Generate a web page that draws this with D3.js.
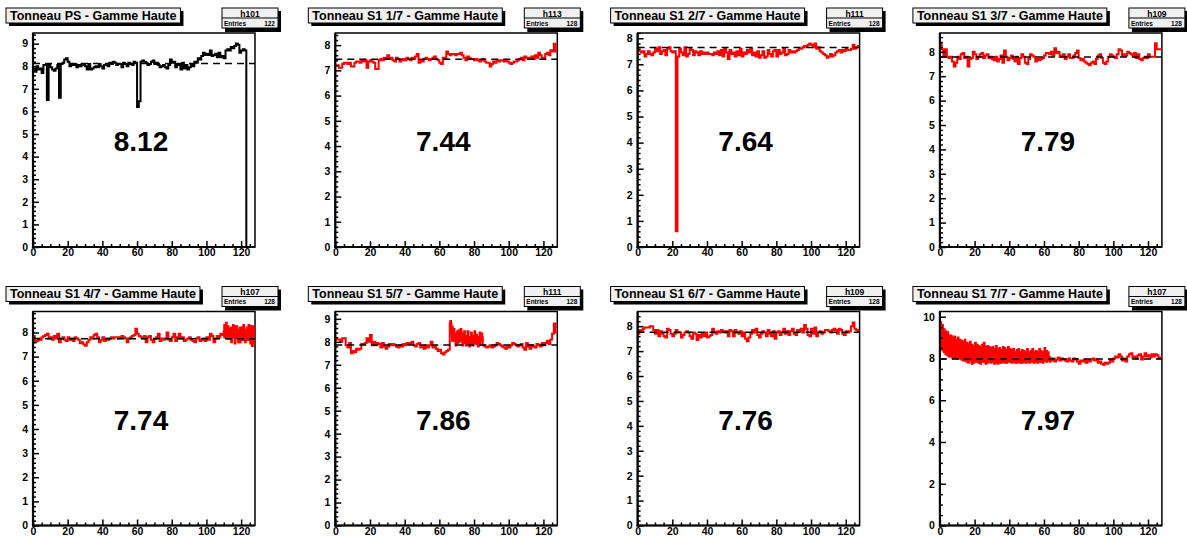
<!DOCTYPE html>
<html><head><meta charset="utf-8">
<script src="https://cdn.jsdelivr.net/npm/d3@7"></script>
<style>
body{margin:0;background:#fff;}
svg{display:block;}
text{font-family:"Liberation Sans",Arial,Helvetica,sans-serif;font-weight:bold;fill:#000;}
</style>
</head><body>
<svg id="c" width="1187" height="537"></svg>
<script>
// ---------- data ----------
const titles = ["Tonneau PS - Gamme Haute","Tonneau S1 1/7 - Gamme Haute","Tonneau S1 2/7 - Gamme Haute","Tonneau S1 3/7 - Gamme Haute",
                "Tonneau S1 4/7 - Gamme Haute","Tonneau S1 5/7 - Gamme Haute","Tonneau S1 6/7 - Gamme Haute","Tonneau S1 7/7 - Gamme Haute"];
const histNames = ["h101","h113","h111","h109","h107","h111","h109","h107"];
const entries = [122,128,128,128,128,128,128,128];
const means = [8.12,7.44,7.64,7.79,7.74,7.86,7.76,7.97];
const yMaxs = [9.47,8.48,8.2,8.77,8.87,9.32,8.59,10.25];
const colors = ["#000000","#ff0000","#ff0000","#ff0000","#ff0000","#ff0000","#ff0000","#ff0000"];
const xTickLabels = [0,20,40,60,80,100,120];

const v1 = [7.9,7.75,8.0,7.85,7.9,7.7,8.05,8.05, 6.5, 8.05,7.95,7.85,7.8,7.9,8.05, 6.6,
  8.1,8.15,8.3,8.35,8.2,8.0,8.1,8.05,8.1,7.95,
  8.05,8.0,8.1,8.05,8.0,7.85,8.1,7.85,7.9,7.95,8.0,7.95,8.1,8.0,7.9,
  8.05,8.1,8.0,8.15,8.1,8.2,8.15,8.05,8.1,8.1,7.95,8.15,8.1,8.0,8.15,8.1,8.05,8.2,8.15,
  6.2,6.45,
  8.2,8.25,8.2,8.15,8.05,8.1,8.2,8.25,8.1,8.15,8.05,7.95,8.0,8.05,7.95,7.9,8.05,8.3,8.15,
  8.2,7.95,8.1,8.05,7.85,8.15,7.9,8.05,7.85,7.95,8.1,8.0,8.2,8.15,8.35,
  8.3,8.45,8.6,8.5,8.55,8.5,8.7,8.45,8.5,8.55,8.4,8.6,8.4,8.45,8.35,
  8.7,8.75,8.7,8.85,8.8,8.9,9.0,8.95,8.6,8.7,8.75,8.7,
  0,0,0,0,0];
const v2 = [7.2,7.2,7.1,7.1,7.25,7.3,7.3,7.25,7.3,7.15,
  7.15,7.3,7.35,7.35,7.3,7.4,7.35,7.4,7.1,7.35,
  7.4,7.35,7.3,7.05,7.05,7.4,7.45,7.4,7.5,7.45,
  7.6,7.45,7.5,7.4,7.35,7.5,7.45,7.35,7.4,7.45,
  7.4,7.5,7.45,7.4,7.5,7.45,7.55,7.65,7.3,7.4,
  7.35,7.45,7.5,7.45,7.4,7.45,7.5,7.55,7.45,7.4,
  7.3,7.25,7.5,7.45,7.75,7.65,7.6,7.65,7.65,7.6,
  7.65,7.65,7.7,7.6,7.5,7.4,7.55,7.5,7.45,7.45,
  7.4,7.45,7.4,7.35,7.4,7.45,7.35,7.3,7.3,7.15,
  7.25,7.35,7.3,7.4,7.35,7.4,7.4,7.35,7.4,7.35,
  7.3,7.25,7.3,7.35,7.35,7.4,7.45,7.5,7.4,7.55,
  7.5,7.45,7.5,7.55,7.45,7.6,7.5,7.7,7.6,7.5,
  7.45,7.65,7.7,7.6,7.8,7.75,8.05,7.75];
const v3 = [7.55,7.5,7.45,7.5,7.3,7.4,7.5,7.4,7.35,7.45,
  7.6,7.5,7.65,7.4,7.5,7.55,7.35,7.6,7.65,7.5,
  7.45,7.5,0.6,7.3,7.6,7.45,7.35,7.65,7.3,7.4,
  7.6,7.55,7.35,7.5,7.45,7.35,7.5,7.4,7.45,7.4,
  7.45,7.4,7.4,7.35,7.45,7.4,7.5,7.35,7.55,7.3,
  7.6,7.45,7.2,7.55,7.4,7.45,7.3,7.5,7.35,7.6,
  7.3,7.45,7.4,7.55,7.45,7.6,7.35,7.45,7.3,7.5,
  7.25,7.35,7.5,7.25,7.3,7.55,7.4,7.3,7.5,7.55,
  7.3,7.55,7.4,7.45,7.6,7.35,7.4,7.55,7.45,7.5,
  7.45,7.5,7.55,7.6,7.6,7.65,7.7,7.7,7.75,7.8,
  7.75,7.65,7.8,7.6,7.65,7.5,7.45,7.4,7.35,7.25,
  7.3,7.4,7.3,7.35,7.45,7.5,7.55,7.45,7.55,7.5,
  7.6,7.55,7.55,7.6,7.75,7.6,7.65,7.7];
const v4 = [8.35,8.1,7.8,8.1,7.8,7.75,7.8,7.6,7.4,7.55,
  7.8,7.7,7.9,7.95,7.75,7.8,7.4,7.7,7.75,8.0,
  7.9,7.7,7.8,7.9,7.95,7.75,7.85,7.9,7.75,7.8,
  7.7,7.65,7.8,7.6,7.7,7.85,7.55,8.05,7.8,7.65,
  7.75,7.85,7.7,7.6,7.8,7.5,7.75,7.9,7.8,7.55,
  7.5,7.7,7.9,7.85,7.8,7.6,7.7,7.65,7.7,7.75,
  7.85,7.95,7.95,7.9,8.0,7.85,8.15,7.95,8.0,7.8,
  7.85,7.9,7.7,7.8,7.9,7.75,7.75,7.85,7.95,8.05,
  7.75,7.65,7.7,7.6,7.55,7.5,7.45,7.55,7.6,7.5,
  7.7,7.85,7.9,7.75,7.55,7.5,7.6,7.8,7.9,7.85,
  7.8,7.75,7.9,8.1,8.05,7.85,7.9,7.85,8.0,7.95,
  7.9,7.85,7.95,7.75,7.9,7.7,7.65,7.75,7.8,7.75,
  7.9,7.8,7.8,7.8,8.35,8.1,8.1,8.1];
const v5 = [7.85,7.6,7.65,7.75,7.7,7.8,7.85,7.9,7.95,7.75,
  7.8,7.7,7.85,7.75,7.95,7.6,7.75,7.8,7.7,7.65,
  7.8,7.7,7.75,7.65,7.8,7.75,7.7,7.55,7.6,7.5,
  7.45,7.6,7.7,7.8,7.75,7.9,7.95,7.8,7.6,7.7,
  7.8,7.65,7.75,7.7,7.75,7.8,7.75,7.8,7.8,7.75,
  7.8,7.85,7.8,7.75,7.6,7.75,7.8,7.85,7.9,8.15,
  7.95,7.85,7.8,7.75,7.85,7.6,7.8,7.85,7.7,7.6,
  7.75,7.8,7.95,7.65,7.75,7.7,7.75,8.0,7.7,7.65,
  7.8,7.95,7.65,7.8,7.95,7.75,7.8,7.65,7.7,7.75,
  7.8,7.7,7.65,7.6,7.75,7.8,7.65,7.7,7.75,7.65,
  7.8,7.7,7.95,7.85,7.6,7.75,7.85,7.8,7.95,7.9,
  8.05,8.1,8.0,7.95,7.9,8.05,7.9,8.0,7.85,7.9,
  7.95,8.0,7.85,7.95,8.0,7.9,7.85,7.9];
const v6 = [8.15,8.1,8.1,8.0,8.15,8.15,7.85,7.75,7.95,7.5,
  7.6,7.55,7.7,7.65,7.7,7.9,7.9,7.95,8.15,8.0,
  8.3,7.85,8.0,7.85,7.95,7.9,7.75,7.95,7.8,7.7,
  7.8,7.9,7.85,7.9,7.85,7.8,7.75,7.85,7.8,7.9,
  7.85,7.95,7.9,7.95,8.0,7.85,7.8,7.9,7.95,7.75,
  7.8,7.7,7.85,7.75,7.85,8.0,7.75,7.8,7.7,7.6,
  7.65,7.5,7.45,7.55,7.6,7.65,8.8,8.35,8.3,8.1,
  8.2,8.25,8.3,8.1,8.2,8.05,8.2,8.0,8.15,8.05,
  8.2,8.1,8.0,8.15,8.2,7.85,7.8,7.75,7.8,7.85,
  7.75,7.8,7.85,7.95,7.9,7.85,7.8,7.75,7.7,7.8,
  7.75,7.85,7.95,7.9,7.85,7.8,7.85,7.9,7.75,7.65,
  7.95,7.8,7.7,7.85,7.8,7.75,7.9,7.85,7.8,7.95,
  7.85,7.95,8.05,7.9,8.1,8.35,8.8,8.4];
const v7 = [7.7,7.85,7.8,7.9,7.95,7.95,7.95,8.0,8.0,7.85,
  7.7,7.85,7.6,7.8,7.7,7.6,7.55,7.9,7.85,7.7,
  7.6,7.7,7.85,7.75,7.75,7.55,7.65,7.75,7.8,7.75,
  7.6,7.5,7.75,7.7,7.45,7.65,7.55,7.7,7.6,7.75,
  7.55,7.6,7.65,7.9,7.75,7.7,7.8,7.75,7.85,7.8,
  7.75,7.8,7.6,7.85,7.8,7.6,7.85,7.75,7.7,7.8,
  7.6,7.75,7.5,7.4,7.55,7.7,7.85,7.75,7.9,7.65,
  7.55,7.7,7.8,7.75,7.6,7.85,7.7,7.6,7.8,7.5,
  7.75,7.8,7.65,7.75,7.9,7.7,7.8,7.65,7.8,7.9,
  7.7,7.65,7.85,7.8,7.9,7.75,8.05,7.9,7.65,7.6,
  7.9,7.7,7.95,7.6,7.75,7.8,7.7,7.75,7.85,7.85,
  7.8,7.75,7.85,7.9,7.85,7.7,7.9,7.85,7.7,7.65,
  7.8,7.75,7.8,8.0,8.15,7.9,7.85,7.8];
const v8 = [9.1,9.0,8.85,8.75,8.7,8.6,8.6,8.5,8.55,8.45,
  8.5,8.45,8.4,8.35,8.4,8.3,8.25,8.35,8.2,8.2,
  8.3,8.25,8.2,8.15,8.25,8.3,8.15,8.2,8.2,8.15,
  8.2,8.1,8.2,8.1,8.15,8.1,8.2,8.15,8.1,8.2,
  8.15,8.1,8.15,8.05,8.1,8.15,8.05,8.1,8.1,8.05,
  8.15,8.05,8.1,8.15,8.05,8.1,8.05,8.15,8.1,8.05,
  8.2,8.1,8.1,7.95,7.9,8.0,7.85,7.95,8.05,7.9,
  8.0,7.95,7.9,7.85,8.0,7.9,7.85,8.0,7.95,7.85,
  7.75,7.9,7.85,7.95,7.8,7.9,7.85,7.95,8.0,7.9,
  7.95,7.8,7.85,7.75,7.7,7.8,7.75,7.8,7.95,7.85,
  8.0,8.1,8.05,8.2,8.1,7.9,8.0,7.85,8.1,8.2,
  8.25,8.05,8.1,8.0,8.15,8.2,7.95,8.1,8.25,8.1,
  8.15,8.05,8.2,8.1,8.2,8.15,8.0,8.05];

// visible error bars: first bin index + half-widths
const err5Start = 110;
const err5 = [0.3,0.35,0.3,0.25,0.35,0.3,0.4,0.3,0.3,0.35,0.3,0.35,0.3,0.3,0.35,0.4,0.45,0.4];
const err6Start = 66;
const err6 = [0.15,0.35,0.3,0.3,0.3,0.3,0.3,0.3,0.3,0.25,0.3,0.25,0.3,0.25,0.3,0.25,0.25,0.3,0.2];
const err8Start = 0;
const err8 = [0.7,0.65,0.6,0.6,0.6,0.55,0.55,0.55,0.55,0.5,
  0.55,0.5,0.5,0.5,0.55,0.5,0.5,0.5,0.5,0.45,
  0.5,0.45,0.45,0.45,0.45,0.5,0.45,0.45,0.4,0.4,
  0.4,0.4,0.45,0.4,0.4,0.35,0.4,0.4,0.35,0.4,
  0.35,0.35,0.35,0.3,0.35,0.35,0.3,0.35,0.3,0.3,
  0.35,0.3,0.3,0.35,0.3,0.3,0.3,0.35,0.3,0.3,
  0.35,0.3,0.25,0.15];

const series = [v1,v2,v3,v4,v5,v6,v7,v8];
const errs = [null,null,null,null,{s:err5Start,e:err5},{s:err6Start,e:err6},null,{s:err8Start,e:err8}];

// ---------- layout ----------
const padW = 302.3, padH = 278.5;
const fL = 33, fR = 255, fT = 33, fB = 247;
const svg = d3.select("#c");
svg.append("rect").attr("width",1187).attr("height",537).attr("fill","#fff");

series.forEach((vals, i) => {
  const col = i % 4, row = Math.floor(i / 4);
  const g = svg.append("g").attr("transform", `translate(${col*padW},${row*padH})`);
  const x = d3.scaleLinear().domain([0,128]).range([fL,fR]);
  const y = d3.scaleLinear().domain([0,yMaxs[i]]).range([fB,fT]);
  const clipId = "clip"+i;
  g.append("clipPath").attr("id",clipId).append("rect")
    .attr("x",fL).attr("y",fT-1).attr("width",fR-fL).attr("height",fB-fT+1);

  // frame
  g.append("rect").attr("x",fL).attr("y",fT).attr("width",fR-fL).attr("height",fB-fT)
    .attr("fill","#fff").attr("stroke","#000").attr("stroke-width",1.5);

  const plot = g.append("g").attr("clip-path",`url(#${clipId})`);
  // error bars
  const er = errs[i];
  if (er) {
    plot.append("g").selectAll("line").data(er.e).join("line")
      .attr("x1",(d,k)=>x(er.s+k+0.5)).attr("x2",(d,k)=>x(er.s+k+0.5))
      .attr("y1",(d,k)=>y(vals[er.s+k]-d)).attr("y2",(d,k)=>y(vals[er.s+k]+d))
      .attr("stroke",colors[i]).attr("stroke-width",2.8);
  }
  // histogram step line
  const pts = vals.map((v,b)=>[b,v]);
  pts.push([vals.length, vals[vals.length-1]]);
  const line = d3.line().x(d=>x(d[0])).y(d=>y(d[1])).curve(d3.curveStepAfter);
  plot.append("path").attr("d",line(pts)).attr("fill","none")
    .attr("stroke",colors[i]).attr("stroke-width",2).attr("stroke-linejoin","miter");
  // mean dashed line
  plot.append("line").attr("x1",x(0)).attr("x2",x(128)).attr("y1",y(means[i])).attr("y2",y(means[i]))
    .attr("stroke","#000").attr("stroke-width",1.5).attr("stroke-dasharray","7,5");

  // y axis
  const step = yMaxs[i] > 10 ? 2 : 1;
  const minorStep = step === 2 ? 0.5 : 0.2;
  const majY = d3.range(0, yMaxs[i]+1e-9, step);
  const minY = d3.range(0, yMaxs[i]+1e-9, minorStep).filter(v => Math.abs(v/step - Math.round(v/step)) > 1e-6);
  g.append("g").attr("transform",`translate(${fL},0)`)
    .call(d3.axisLeft(y).tickValues(minY).tickSize(-3).tickFormat(""))
    .call(a=>a.select(".domain").remove())
    .call(a=>a.selectAll("line").attr("stroke","#000").attr("stroke-width",1.5));
  g.append("g").attr("transform",`translate(${fL},0)`)
    .call(d3.axisLeft(y).tickValues(majY).tickSize(-6).tickPadding(5).tickFormat(d3.format("d")))
    .call(a=>a.select(".domain").remove())
    .call(a=>a.selectAll("line").attr("stroke","#000").attr("stroke-width",1.5))
    .call(a=>a.selectAll("text").attr("font-size",10.5).attr("font-weight","bold")
      .attr("font-family",'"Liberation Sans",Arial,sans-serif').attr("fill","#000"));
  // x axis
  const minX = d3.range(0,128.001,5).filter(v=>v%20!==0);
  g.append("g").attr("transform",`translate(0,${fB})`)
    .call(d3.axisBottom(x).tickValues(minX).tickSize(-3).tickFormat(""))
    .call(a=>a.select(".domain").remove())
    .call(a=>a.selectAll("line").attr("stroke","#000").attr("stroke-width",1.5));
  g.append("g").attr("transform",`translate(0,${fB})`)
    .call(d3.axisBottom(x).tickValues(xTickLabels).tickSize(-6).tickPadding(2).tickFormat(d3.format("d")))
    .call(a=>a.select(".domain").remove())
    .call(a=>a.selectAll("line").attr("stroke","#000").attr("stroke-width",1.5))
    .call(a=>a.selectAll("text").attr("font-size",10.5).attr("font-weight","bold")
      .attr("font-family",'"Liberation Sans",Arial,sans-serif').attr("fill","#000"));
  // thick axis lines
  g.append("line").attr("x1",fL).attr("x2",fL).attr("y1",fT).attr("y2",fB+1).attr("stroke","#000").attr("stroke-width",2.2);
  g.append("line").attr("x1",fL-1).attr("x2",fR).attr("y1",fB).attr("y2",fB).attr("stroke","#000").attr("stroke-width",2.2);

  // big value text
  g.append("text").attr("x",141).attr("y",151).attr("text-anchor","middle")
    .attr("font-size",28).text(means[i].toFixed(2));

  // title box
  const tg = g.append("g");
  const tt = tg.append("text").attr("x",10).attr("y",19.5).attr("font-size",12.5).text(titles[i]);
  const tw = tt.node().getComputedTextLength();
  tg.insert("rect","text").attr("x",9).attr("y",11).attr("width",tw+8).attr("height",15).attr("fill","#000");
  tg.insert("rect","text").attr("x",6).attr("y",8).attr("width",tw+8).attr("height",15)
    .attr("fill","#f0f0f0").attr("stroke","#000").attr("stroke-width",1);

  // stats box
  const sg = g.append("g");
  sg.append("rect").attr("x",225).attr("y",11).attr("width",56).attr("height",21).attr("fill","#000");
  sg.append("rect").attr("x",222).attr("y",8).attr("width",56).attr("height",20)
    .attr("fill","#f0f0f0").attr("stroke","#000").attr("stroke-width",1);
  sg.append("line").attr("x1",222).attr("x2",278).attr("y1",18).attr("y2",18).attr("stroke","#000").attr("stroke-width",1);
  sg.append("text").attr("x",250).attr("y",16.5).attr("text-anchor","middle").attr("font-size",8.5).text(histNames[i]);
  sg.append("text").attr("x",224).attr("y",25.5).attr("font-size",6.5).text("Entries");
  sg.append("text").attr("x",275).attr("y",25.5).attr("text-anchor","end").attr("font-size",6.5).text(entries[i]);
});
</script>
</body></html>
